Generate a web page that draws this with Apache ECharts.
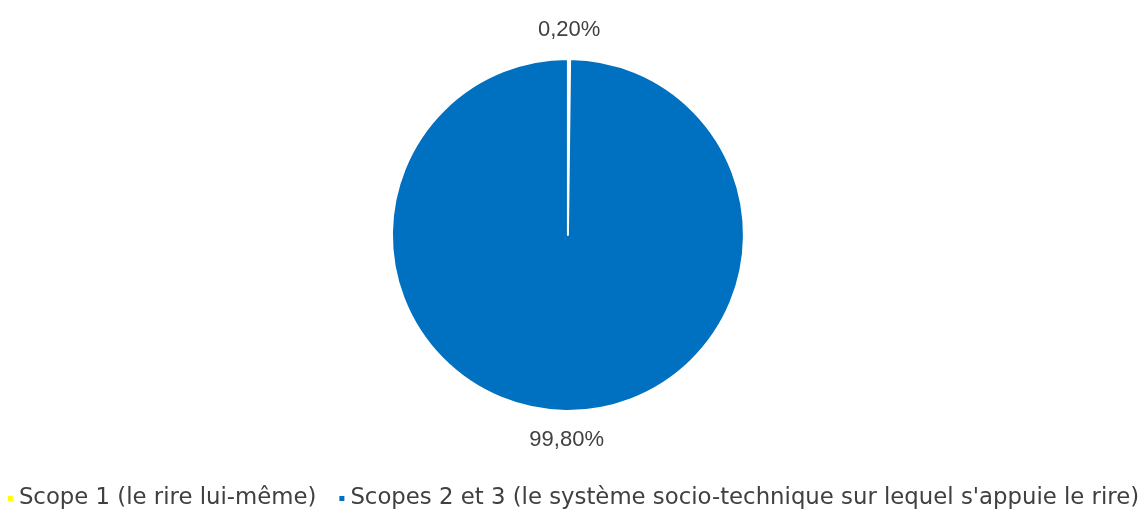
<!DOCTYPE html>
<html>
<head>
<meta charset="utf-8">
<script src="https://cdn.jsdelivr.net/npm/echarts@6/dist/echarts.min.js"></script>
<style>
  html, body { margin: 0; padding: 0; background: #fff; }
  #main { width: 1145px; height: 514px; }
</style>
</head>
<body>
<div id="main"></div>
<script>
// catégories et parts (%)
var categories = ['Scope 1 (le rire lui-même)', 'Scopes 2 et 3 (le système socio-technique sur lequel s\'appuie le rire)'];
var values = [0.2, 99.8];
var colors = ['#FFFF00', '#0070C0'];

var chart = echarts.init(document.getElementById('main'));

var data = categories.map(function (name, i) {
  return { name: name, value: values[i], itemStyle: { color: colors[i] } };
});

chart.setOption({
  animation: false,
  textStyle: { fontFamily: 'Liberation Sans' },
  legend: {
    bottom: 4,
    left: 'center',
    padding: 0,
    itemWidth: 7,
    itemHeight: 7,
    itemGap: 21,
    icon: 'rect',
    textStyle: { fontSize: 22.8, color: '#404040', fontFamily: 'DejaVu Sans' },
    data: categories
  },
  series: [{
    type: 'pie',
    center: ['49.6%', '45.7%'],
    radius: 176,
    startAngle: 90,
    clockwise: true,
    itemStyle: { borderColor: '#fff', borderWidth: 2 },
    label: {
      show: true,
      position: 'outside',
      fontSize: 22,
      color: '#404040',
      distanceToLabelLine: 0,
      formatter: function (p) {
        return p.value.toFixed(2).replace('.', ',') + '%';
      }
    },
    labelLine: { show: false, length: 29, length2: 0 },
    labelLayout: { align: 'center' },
    data: data
  }]
});
</script>
</body>
</html>
